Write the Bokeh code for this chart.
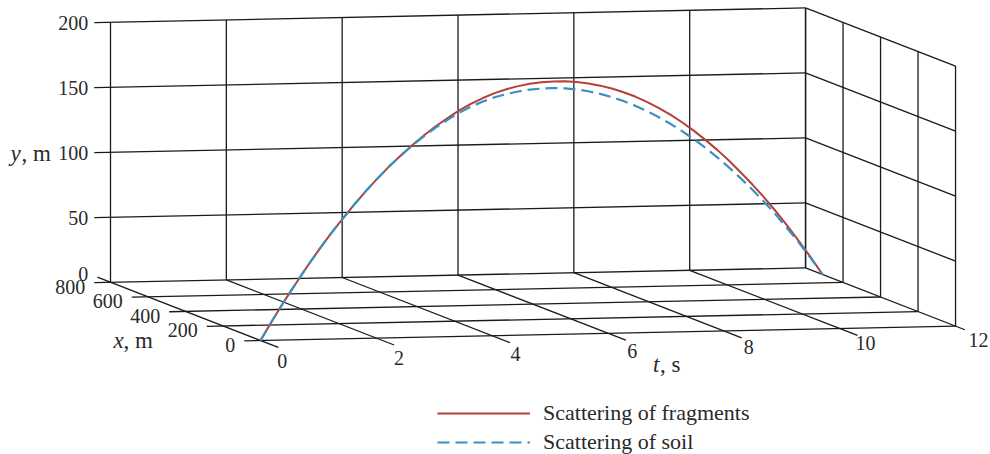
import numpy as np
from bokeh.plotting import figure
from bokeh.models import Range1d, Legend, LegendItem
from bokeh.embed import file_html
from bokeh.resources import INLINE
from bokeh.core.properties import value

# ---------------- data ----------------
t_ticks = [0, 2, 4, 6, 8, 10, 12]
x_ticks = [0, 200, 400, 600, 800]
y_ticks = [0, 50, 100, 150, 200]
t_tick_labels = ["0", "2", "4", "6", "8", "10", "12"]
x_tick_labels = ["0", "200", "400", "600", "800"]
y_tick_labels = ["0", "50", "100", "150", "200"]

t_s = [0, 0.25, 0.5, 0.75, 1, 1.25, 1.5, 1.75, 2, 2.25, 2.5, 2.75, 3,
       3.25, 3.5, 3.75, 4, 4.25, 4.5, 4.75, 5, 5.25, 5.5, 5.75, 6,
       6.25, 6.5, 6.75, 7, 7.25, 7.5, 7.75, 8, 8.25, 8.5, 8.75, 9,
       9.25, 9.5, 9.75, 10, 10.25, 10.5, 10.75, 11, 11.25, 11.5, 11.75, 12]
x_frag = [0, 15, 30, 44, 59, 74, 89, 103, 118, 133, 148, 163, 177,
          192, 207, 222, 236, 251, 266, 281, 296, 310, 325, 340, 355,
          369, 384, 399, 414, 428, 443, 458, 473, 488, 503, 517, 532,
          547, 562, 576, 591, 606, 621, 635, 650, 665, 680, 694, 709]
y_frag = [0, 14.1, 27.6, 40.5, 52.9, 64.6, 75.7, 86.1, 96.1, 105.4, 114.1, 122.3, 129.8,
          136.8, 143.2, 149.1, 154.4, 159.2, 163.1, 166.4, 169.1, 171.1, 172.4, 173.1, 173.2,
          172.9, 171.9, 170.3, 168.1, 165.4, 162.1, 158.2, 153.8, 148.7, 143.0, 136.7, 129.8,
          122.3, 114.1, 105.4, 96.1, 86.1, 75.7, 64.6, 52.9, 40.5, 27.6, 14.1, 0]
x_soil = [0, 15, 30, 44, 59, 74, 89, 103, 118, 133, 148, 163, 177,
          192, 207, 222, 236, 251, 266, 281, 296, 310, 325, 340, 355,
          369, 384, 399, 414, 428, 443, 458, 473, 488, 503, 517, 532,
          547, 562, 576, 591, 606, 621, 635, 650, 665, 680, 694, 709]
y_soil = [0, 14.1, 27.6, 40.5, 52.9, 64.6, 75.7, 86.1, 96.1, 105.4, 114.1, 122.3, 129.8,
          136.5, 142.6, 148.1, 153.0, 157.4, 160.9, 163.7, 165.9, 167.4, 168.3, 168.6, 168.4,
          167.8, 166.5, 164.6, 162.1, 159.1, 155.5, 151.4, 146.8, 141.6, 135.9, 129.7, 123.0,
          115.8, 108.0, 99.7, 90.9, 81.5, 71.7, 61.3, 50.3, 38.6, 26.4, 13.5, 0]

# ---------------- projection (oblique 3D view) ----------------
OX, OY = 260.0, 340.0
ET = (57.92, -1.2)        # per second
EX = (-0.1875, -0.07275)  # per metre of x (depth)
EY = (0.0, -1.3)          # per metre of height

def P(t, x, y):
    t = np.asarray(t, float); x = np.asarray(x, float); y = np.asarray(y, float)
    return (OX + ET[0] * t + EX[0] * x + EY[0] * y,
            OY + ET[1] * t + EX[1] * x + EY[1] * y)

t_lo, t_hi = t_ticks[0], t_ticks[-1]
x_lo, x_hi = x_ticks[0], x_ticks[-1]
y_lo, y_hi = y_ticks[0], y_ticks[-1]
t_ext = -0.28
x_ext = -95

W, H = 990, 454
p = figure(width=W, height=H, x_range=Range1d(0, W), y_range=Range1d(H, 0),
           output_backend="svg", toolbar_location=None, x_axis_type=None, y_axis_type=None,
           min_border=0, outline_line_color=None, background_fill_color="white")
p.grid.visible = False

segs = []
# floor: constant x
for xv in x_ticks:
    segs.append(((t_ext, xv, 0), (t_hi, xv, 0)))
# floor: constant t
for tv in t_ticks:
    x_start = x_hi + 70 if tv == t_lo else x_hi
    x_end = -50 if tv == t_hi else x_ext
    segs.append(((tv, x_start, 0), (tv, x_end, 0)))
# back wall
for tv in t_ticks:
    segs.append(((tv, x_hi, 0), (tv, x_hi, y_hi)))
for yv in y_ticks[1:]:
    segs.append(((t_ext, x_hi, yv), (t_hi, x_hi, yv)))
# right wall
for xv in x_ticks:
    segs.append(((t_hi, xv, 0), (t_hi, xv, y_hi)))
for yv in y_ticks[1:]:
    segs.append(((t_hi, x_hi, yv), (t_hi, x_lo, yv)))

xs, ys = [], []
for a, b in segs:
    sx, sy = P([a[0], b[0]], [a[1], b[1]], [a[2], b[2]])
    xs.append(list(sx)); ys.append(list(sy))
p.multi_line(xs, ys, line_color="#1a1a1a", line_width=1.3)

# curves
fx, fy = P(t_s, x_frag, y_frag)
sxs, sys_ = P(t_s, x_soil, y_soil)
r_frag = p.line(fx, fy, line_color="#b5403a", line_width=2, line_join="round")
r_soil = p.line(sxs, sys_, line_color="#3d8fbf", line_width=2.2, line_dash="12 6",
                line_join="round")

FONT_NAME = "Liberation Serif"
FONT = value(FONT_NAME)
TC = "#2a2a2a"

# y tick labels
yx, yy = P([t_ext] * len(y_ticks), [x_hi] * len(y_ticks), y_ticks)
yy = np.array(yy)
yy[0] -= 9
p.text(x=list(np.array(yx) - 6), y=list(yy), text=y_tick_labels, text_font=FONT,
       text_font_size="20px", text_align="right", text_baseline="middle", text_color=TC)

# x tick labels
xx, xy = P([t_ext] * len(x_ticks), x_ticks, [0] * len(x_ticks))
p.text(x=list(np.array(xx) - 9), y=list(np.array(xy) + 4), text=x_tick_labels, text_font=FONT,
       text_font_size="20px", text_align="right", text_baseline="middle", text_color=TC)

# t tick labels
tx, ty = P(t_ticks, [x_ext] * len(t_ticks), [0] * len(t_ticks))
tt = np.array(t_ticks, float)
tx = np.minimum(np.array(tx) + 4 + 0.4 * tt, W - 12)
ty = np.array(ty) + 14 - 0.6 * tt
p.text(x=list(tx), y=list(ty), text=t_tick_labels, text_font=FONT,
       text_font_size="20px", text_align="center", text_baseline="middle", text_color=TC)

# axis titles
ax, ay = P(0, x_hi, 100)
p.text(x=[float(ax) - 100], y=[float(ay) + 1], text=["y"], text_font=FONT, text_font_style="italic",
       text_font_size="23px", text_align="left", text_baseline="middle", text_color=TC)
p.text(x=[float(ax) - 89], y=[float(ay) + 1], text=[", m"], text_font=FONT,
       text_font_size="23px", text_align="left", text_baseline="middle", text_color=TC)

bx, by = P(0, 0, 0)
p.text(x=[float(bx) - 147], y=[float(by)], text=["x"], text_font=FONT, text_font_style="italic",
       text_font_size="23px", text_align="left", text_baseline="middle", text_color=TC)
p.text(x=[float(bx) - 137], y=[float(by)], text=[", m"], text_font=FONT,
       text_font_size="23px", text_align="left", text_baseline="middle", text_color=TC)

cx, cy = P(6, 0, 0)
p.text(x=[float(cx) + 45], y=[float(cy) + 31], text=["t"], text_font=FONT, text_font_style="italic",
       text_font_size="23px", text_align="left", text_baseline="middle", text_color=TC)
p.text(x=[float(cx) + 52], y=[float(cy) + 31], text=[", s"], text_font=FONT,
       text_font_size="23px", text_align="left", text_baseline="middle", text_color=TC)

legend = Legend(items=[LegendItem(label="Scattering of fragments", renderers=[r_frag]),
                       LegendItem(label="Scattering of soil", renderers=[r_soil])],
                location=(437, -1), orientation="vertical", glyph_width=93, glyph_height=24,
                label_height=24, label_standoff=13, spacing=3, padding=0, margin=0,
                label_text_font=FONT_NAME, label_text_font_size="22px", label_text_color=TC,
                border_line_color=None, background_fill_alpha=0)
p.add_layout(legend, "center")

open("out.html", "w").write(file_html(p, INLINE))
